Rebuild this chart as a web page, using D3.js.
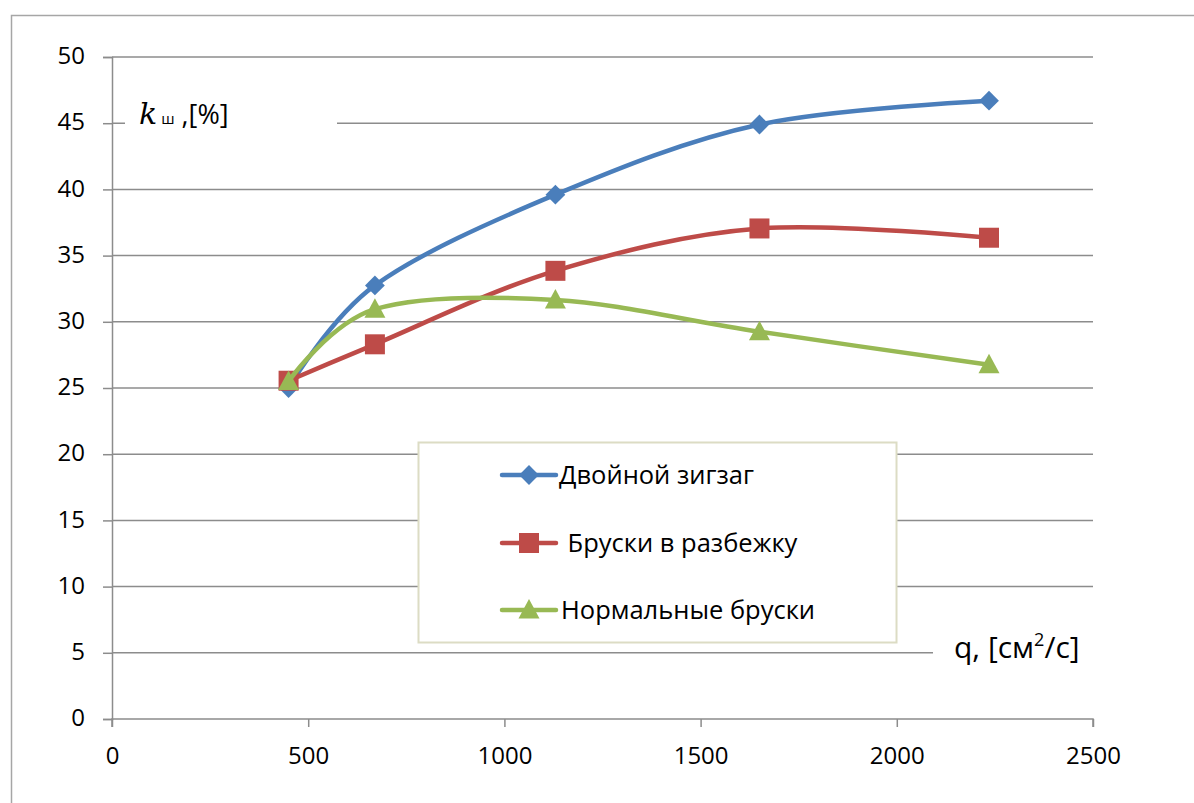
<!DOCTYPE html>
<html><head><meta charset="utf-8">
<script src="https://cdn.jsdelivr.net/npm/d3@7"></script>
<style>body{margin:0;background:#fff;}svg{display:block;font-family:"Open Sans",sans-serif;}</style>
</head><body><svg id="c" width="1194" height="803"></svg>
<script>
const qValues = [450, 670, 1130, 1650, 2235];
const seriesNames = ["Двойной зигзаг", " Бруски в разбежку", "Нормальные бруски"];
const zigzag = [25.0, 32.75, 39.6, 44.9, 46.7];
const razbezhku = [25.55, 28.3, 33.85, 37.05, 36.35];
const normal = [25.5, 30.95, 31.65, 29.25, 26.75];
const xTicks = [0, 500, 1000, 1500, 2000, 2500];
const yTicks = [0, 5, 10, 15, 20, 25, 30, 35, 40, 45, 50];
const colors = ["#4A7EBB", "#BE4B48", "#98B954"];
const markers = ["diamond", "square", "triangle"];

const svg = d3.select("#c");
const x = d3.scaleLinear().domain([0, 2500]).range([112, 1093]);
const y = d3.scaleLinear().domain([0, 50]).range([719, 57]);

// outer frame
svg.append("path").attr("d", "M11.5,803 L11.5,15.5 L1194,15.5").attr("fill", "none").attr("stroke", "#a6a6a6").attr("stroke-width", 1.5);

// gridlines
svg.append("g").selectAll("line").data(yTicks.filter(d => d > 0)).join("line")
  .attr("x1", x(0)).attr("x2", x(2500)).attr("y1", d => y(d)).attr("y2", d => y(d))
  .attr("stroke", "#8c8c8c").attr("stroke-width", 1.5);

// axes
const yAxis = svg.append("g").attr("transform", `translate(${x(0)},0)`)
  .call(d3.axisLeft(y).tickValues(yTicks).tickSize(9).tickPadding(18).tickFormat(d3.format("d")));
const xAxis = svg.append("g").attr("transform", `translate(0,${y(0)})`)
  .call(d3.axisBottom(x).tickValues(xTicks).tickSize(8).tickPadding(20).tickFormat(d3.format("d")));
[yAxis, xAxis].forEach(g => {
  g.select(".domain").attr("stroke", "#8c8c8c").attr("stroke-width", 1.5);
  g.selectAll(".tick line").attr("stroke", "#8c8c8c").attr("stroke-width", 1.5);
  g.selectAll("text").attr("font-size", 24).attr("fill", "#000").attr("font-family", "'Open Sans',sans-serif");
});
yAxis.selectAll("text").attr("dy", "0.28em");
xAxis.select(".domain").attr("d", `M${x(0)},8V0H${x(2500)}V8`);

// axis labels with white backgrounds
svg.append("rect").attr("x", 125).attr("y", 95).attr("width", 212).attr("height", 40).attr("fill", "#fff");
const yl = svg.append("text").attr("x", 139).attr("y", 124).attr("fill", "#000");
yl.append("tspan").text("k").attr("font-style", "italic").attr("font-family", "'DejaVu Serif',serif").attr("font-size", 30);
yl.append("tspan").text("ш").attr("font-size", 15).attr("dx", 4);
yl.append("tspan").text(" ,[%]").attr("font-size", 27);

svg.append("rect").attr("x", 933).attr("y", 625).attr("width", 162).attr("height", 45).attr("fill", "#fff");
const xl = svg.append("text").attr("x", 954).attr("y", 658).attr("font-size", 30).attr("fill", "#000");
xl.append("tspan").text("q, [см");
xl.append("tspan").text("2").attr("font-size", 18).attr("dy", -12);
xl.append("tspan").text("/с]").attr("dy", 12);

// series
const allSeries = [zigzag, razbezhku, normal];
const line = d3.line().x(d => x(d[0])).y(d => y(d[1])).curve(d3.curveCardinal.tension(0));
function markerPath(type) {
  if (type === "diamond") return d3.symbol(d3.symbolDiamond2, 250)();
  if (type === "square") return "M-10,-10H10V10H-10Z";
  return "M0,-11L10.5,8.5L-10.5,8.5Z";
}
allSeries.forEach((vals, i) => {
  const pts = qValues.map((q, j) => [q, vals[j]]);
  svg.append("path").datum(pts).attr("d", line).attr("fill", "none")
    .attr("stroke", colors[i]).attr("stroke-width", 4.5).attr("stroke-linecap", "round");
  svg.append("g").selectAll("path").data(pts).join("path")
    .attr("d", markerPath(markers[i]))
    .attr("transform", d => `translate(${x(d[0])},${y(d[1])})`)
    .attr("fill", colors[i]);
});

// legend
svg.append("rect").attr("x", 418.5).attr("y", 442.5).attr("width", 478).attr("height", 200)
  .attr("fill", "#fff").attr("stroke", "#dcdcc4").attr("stroke-width", 2);
const ly = [475, 543, 610];
const ltx = [559, 561, 561];
seriesNames.forEach((name, i) => {
  svg.append("line").attr("x1", 502).attr("x2", 556).attr("y1", ly[i]).attr("y2", ly[i])
    .attr("stroke", colors[i]).attr("stroke-width", 4.5).attr("stroke-linecap", "round");
  svg.append("path").attr("d", markerPath(markers[i])).attr("transform", `translate(529,${ly[i]})`).attr("fill", colors[i]);
  svg.append("text").attr("x", ltx[i]).attr("y", ly[i] + 9).attr("font-size", 25.5).attr("fill", "#000")
    .attr("xml:space", "preserve").style("white-space", "pre").text(name);
});
</script></body></html>
